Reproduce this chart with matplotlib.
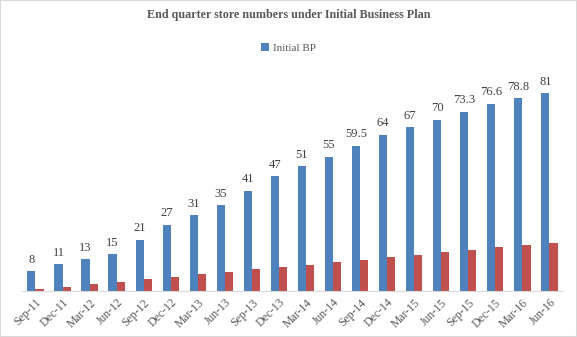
import numpy as np
import matplotlib.pyplot as plt
from matplotlib.patches import Rectangle

quarters = ['Sep-11', 'Dec-11', 'Mar-12', 'Jun-12', 'Sep-12', 'Dec-12', 'Mar-13',
            'Jun-13', 'Sep-13', 'Dec-13', 'Mar-14', 'Jun-14', 'Sep-14', 'Dec-14',
            'Mar-15', 'Jun-15', 'Sep-15', 'Dec-15', 'Mar-16', 'Jun-16']
initial_bp = [8, 11, 13, 15, 21, 27, 31, 35, 41, 47, 51, 55, 59.5, 64, 67, 70,
              73.3, 76.6, 78.8, 81]
second_series = [0.8, 1.6, 3.0, 3.7, 5.0, 5.7, 7.1, 7.8, 9.0, 9.8, 10.8, 11.9,
                 12.7, 13.9, 14.7, 16.0, 16.8, 18.0, 18.8, 19.6]

plt.rcParams['font.family'] = ['Liberation Serif', 'DejaVu Serif']

fig = plt.figure(figsize=(5.77, 3.37), dpi=100)
ax = fig.add_axes([0.038, 0.1365, 0.9377, 0.6525])

x = np.arange(len(quarters))
w = 0.3
bars = ax.bar(x - w / 2, initial_bp, w, color='#4f81bd', label='Initial BP')
ax.bar(x + w / 2, second_series, w, color='#c0504d')

for xi, v in zip(x, initial_bp):
    ax.annotate(f'{v:g}', (xi - w / 2, v), xytext=(0, 4), textcoords='offset points',
                ha='center', va='bottom', fontsize=9, color='#404040')

ax.set_xlim(-0.5, len(quarters) - 0.5)
ax.set_ylim(0, 90)
ax.set_xticks(x)
ax.set_xticklabels(quarters, rotation=45, ha='right', rotation_mode='anchor',
                   fontsize=8.5, color='#595959')
ax.tick_params(axis='x', length=0, pad=4)
ax.set_yticks([])
for side in ['top', 'right', 'left']:
    ax.spines[side].set_visible(False)
ax.spines['bottom'].set_color('#d9d9d9')

fig.text(0.5, 0.955, 'End quarter store numbers under Initial Business Plan',
         ha='center', va='center', fontsize=8.7, fontweight='bold', color='#595959')
fig.legend(handles=[bars], loc='center', bbox_to_anchor=(0.5, 0.858), frameon=False,
           fontsize=8, handlelength=0.7, handleheight=0.7, handletextpad=0.3,
           labelcolor='#595959')

fig.patches.append(Rectangle((0, 0), 1, 1, transform=fig.transFigure, fill=False,
                             edgecolor='#d9d9d9', linewidth=1.5))

fig.savefig('out.png', dpi=100)
